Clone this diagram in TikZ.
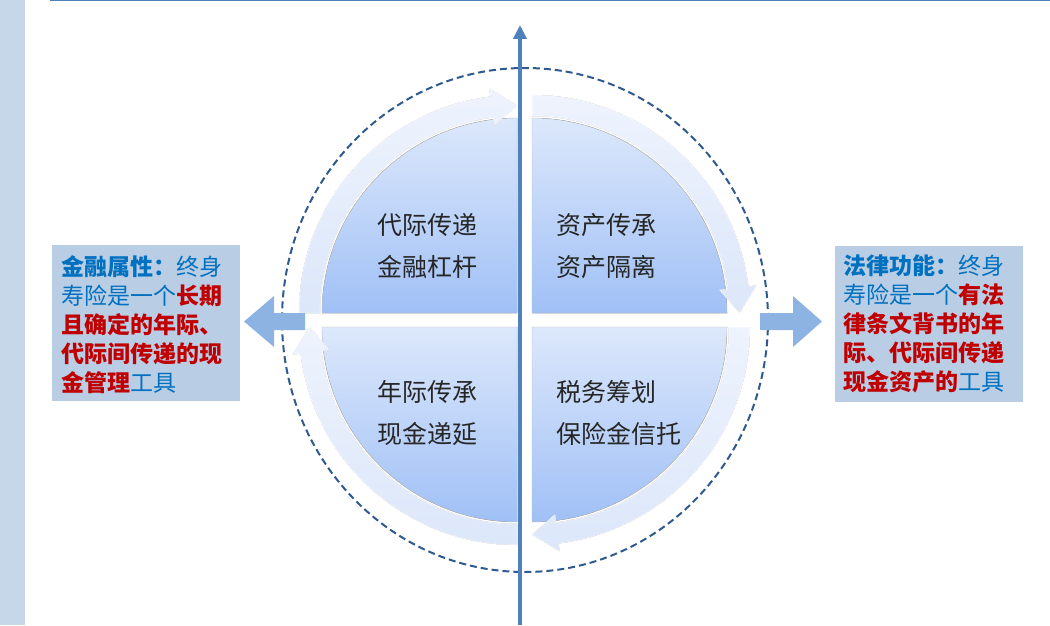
\documentclass[tikz,border=0pt]{standalone}
\usepackage{fontspec}
\setmainfont{Noto Sans CJK SC}
\usetikzlibrary{arrows.meta}
\definecolor{axisblue}{HTML}{4F81BD}
\definecolor{ringblue}{HTML}{2F5A8F}
\definecolor{fatblue}{HTML}{8DB3E2}
\definecolor{boxblue}{HTML}{B9CDE5}
\definecolor{stripblue}{HTML}{C6D7EA}
\definecolor{txtblue}{HTML}{0070C0}
\definecolor{txtred}{HTML}{C00000}
\definecolor{bandtop}{HTML}{EEF3FD}
\definecolor{bandbot}{HTML}{DCE7FA}
\tikzset{
	band/.style={top color=bandtop, bottom color=bandbot, draw=white, line width=0.5pt},
	core/.style={top color={rgb,255:red,220;green,232;blue,251}, bottom color={rgb,255:red,160;green,192;blue,246}, draw=gray!50, line width=0.4pt},
	quadtext/.style={font=\fontsize{25}{42}\selectfont, align=left, anchor=north west, text=black!85, inner sep=0pt},
	sidebox/.style={fill=boxblue, minimum width=188pt, minimum height=156pt, inner sep=0pt},
	sidetext/.style={font=\fontsize{23}{29}\selectfont, align=left, anchor=north west, inner sep=0pt, text=txtblue}
}
% one quarter: corner at (#1,#2), arrow tip at angle #3
\newcommand{\quadrant}[3]{
	\begin{scope}[shift={(#1,#2)}]
		\fill[core] (0,0) -- (#3:195) arc (#3:#3+90:195) -- cycle;
		\fill[band] (#3+90:197) -- (#3+90:218) arc (#3+90:#3+7:218) -- (#3+7:226)
			-- (#3:207.5) -- (#3+7:189) -- (#3+7:197) arc (#3+7:#3+90:197) -- cycle;
	\end{scope}
}
\begin{document}
\begin{tikzpicture}[x=1pt,y=1pt]
	\useasboundingbox (0,0) rectangle (1050,625);
	\fill[white] (0,0) rectangle (1050,625);
	% left strip and top rule
	\fill[stripblue] (0,0) rectangle (25,625);
	\draw[axisblue, line width=1pt] (50,624.5) -- (1050,624.5);

	% dashed ring
	\draw[ringblue, line width=2pt, dash pattern=on 7pt off 4pt] (525,305) ellipse (243 and 252);

	% quarters
	\quadrant{517}{312}{90}
	\quadrant{532}{312}{0}
	\quadrant{532}{298}{-90}
	\quadrant{517}{298}{180}

	% fat side arrows
	\fill[fatblue] (305,312) -- (274,312) -- (274,329) -- (244,303.5) -- (274,278) -- (274,295) -- (305,295) -- cycle;
	\fill[fatblue] (760,312) -- (793,312) -- (793,329) -- (822,303.5) -- (793,278) -- (793,295) -- (760,295) -- cycle;

	% vertical axis
	\coordinate (axisbot) at (520,0);
	\coordinate (axistop) at (520,600);
	\draw[axisblue, line width=3.5pt, -{Triangle[length=14pt,width=13pt]}] (axisbot) -- (axistop);

	% quadrant labels
	\node[quadtext] (tl) at (377,412) {代际传递\\金融杠杆};
	\node[quadtext] (tr) at (556,412) {资产传承\\资产隔离};
	\node[quadtext] (bl) at (377,245) {年际传承\\现金递延};
	\node[quadtext] (br) at (556,245) {税务筹划\\保险金信托};

	% side boxes
	\node[sidebox] (leftbox) at (146,302) {};
	\node[sidetext] (lefttext) at (61,370) {\textbf{金融属性：}终身\\寿险是一个\textcolor{txtred}{\textbf{长期}}\\\textcolor{txtred}{\textbf{且确定的年际、}}\\\textcolor{txtred}{\textbf{代际间传递的现}}\\\textcolor{txtred}{\textbf{金管理}}工具};
	\node[sidebox] (rightbox) at (929,301) {};
	\node[sidetext] (righttext) at (843,370) {\textbf{法律功能：}终身\\寿险是一个\textcolor{txtred}{\textbf{有法}}\\\textcolor{txtred}{\textbf{律条文背书的年}}\\\textcolor{txtred}{\textbf{际、代际间传递}}\\\textcolor{txtred}{\textbf{现金资产的}}工具};
\end{tikzpicture}
\end{document}
